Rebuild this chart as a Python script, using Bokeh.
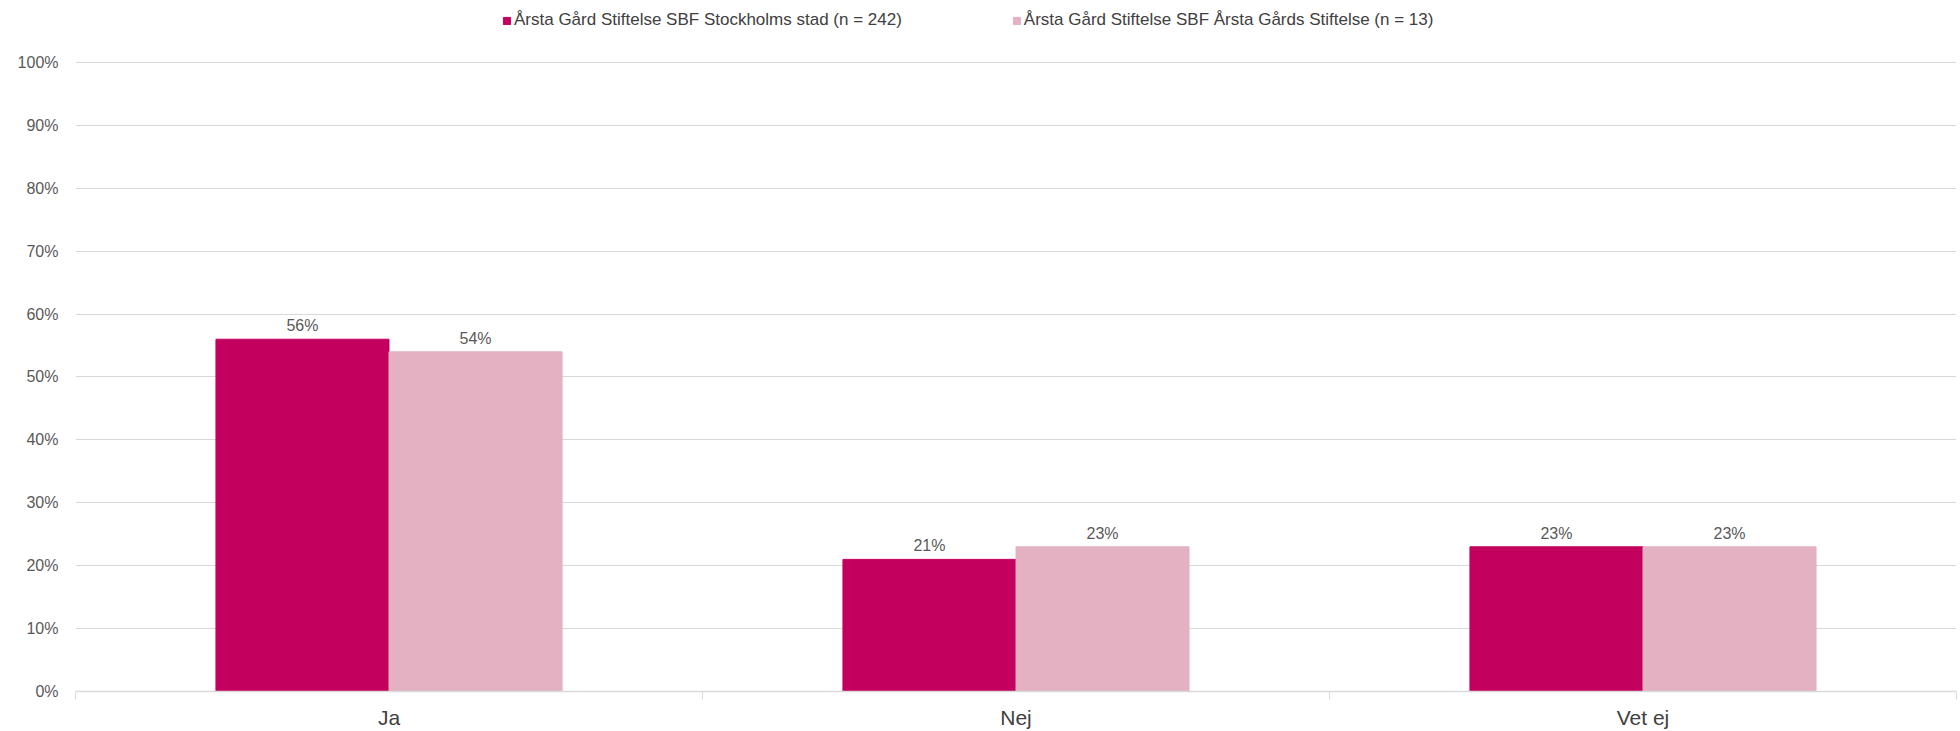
from bokeh.plotting import figure
from bokeh.models import (Range1d, FixedTicker, ColumnDataSource, Legend, LegendItem,
                          CustomJSTickFormatter)
from bokeh.transform import dodge
from bokeh.embed import file_html
from bokeh.resources import INLINE
from bokeh.core.properties import value

categories = ["Ja", "Nej", "Vet ej"]
series_names = ["Årsta Gård Stiftelse SBF Stockholms stad (n = 242)",
                "Årsta Gård Stiftelse SBF Årsta Gårds Stiftelse (n = 13)"]
stockholm = [56, 21, 23]
arsta = [54, 23, 23]
y_ticks = [0, 10, 20, 30, 40, 50, 60, 70, 80, 90, 100]

DARK = "#C4005F"
LIGHT = "#E3B1C2"
FONT = "Liberation Sans"

x = [i + 0.5 for i in range(len(categories))]
bounds = [float(i) for i in range(len(categories) + 1)]
src = ColumnDataSource(dict(
    x=x, s1=stockholm, s2=arsta,
    l1=[f"{v}%" for v in stockholm], l2=[f"{v}%" for v in arsta]))

# frame spans the full height above the axis; 100% lands ~62px from the top
p = figure(width=1960, height=731, x_range=Range1d(0, len(categories)), y_range=Range1d(0, 109.84),
           output_backend="svg", toolbar_location=None,
           min_border_left=75, min_border_right=4, min_border_top=0, min_border_bottom=39)

bw = 0.276
off = bw / 2
r1 = p.vbar(x=dodge("x", -off), top="s1", width=bw, source=src, color=DARK)
r2 = p.vbar(x=dodge("x", off), top="s2", width=bw, source=src, color=LIGHT)

for xx, col in ((dodge("x", -off), "l1"), (dodge("x", off), "l2")):
    p.text(x=xx, y="s1" if col == "l1" else "s2", text=col, source=src,
           text_align="center", text_baseline="bottom", y_offset=-5,
           text_font=value(FONT), text_font_size="16px", text_color="#595959")

p.outline_line_color = None
p.xgrid.grid_line_color = None
p.ygrid.grid_line_color = "#d9d9d9"
p.ygrid.ticker = FixedTicker(ticks=y_ticks)

xa = p.xaxis[0]
xa.ticker = FixedTicker(ticks=x, minor_ticks=bounds)
xa.formatter = CustomJSTickFormatter(args=dict(cats=categories),
                                     code="const c = cats[Math.floor(tick)]; return c === undefined ? '' : c;")
xa.axis_line_color = "#d9d9d9"
xa.axis_line_width = 1.5
xa.major_tick_line_color = None
xa.major_tick_out = 0
xa.major_tick_in = 0
xa.minor_tick_line_color = "#d9d9d9"
xa.minor_tick_out = 8
xa.minor_tick_in = 0
xa.major_label_text_font = FONT
xa.major_label_text_font_size = "21px"
xa.major_label_text_color = "#404040"
xa.major_label_standoff = 6

ya = p.yaxis[0]
ya.ticker = FixedTicker(ticks=y_ticks)
ya.formatter = CustomJSTickFormatter(code="return tick + '%';")
ya.axis_line_color = None
ya.major_tick_line_color = None
ya.major_tick_out = 0
ya.major_tick_in = 0
ya.minor_tick_line_color = None
ya.major_label_text_font = FONT
ya.major_label_text_font_size = "16px"
ya.major_label_text_color = "#595959"
ya.major_label_standoff = 17

legend = Legend(items=[LegendItem(label=series_names[0], renderers=[r1]),
                       LegendItem(label=series_names[1], renderers=[r2])],
                orientation="horizontal", location=(427, 661),
                label_text_font=FONT, label_text_font_size="17px", label_text_color="#404040",
                glyph_width=9, glyph_height=9, label_standoff=3, spacing=110,
                padding=0, margin=0, border_line_color=None, background_fill_alpha=0)
p.add_layout(legend, "center")

open("out.html", "w").write(file_html(p, INLINE))
